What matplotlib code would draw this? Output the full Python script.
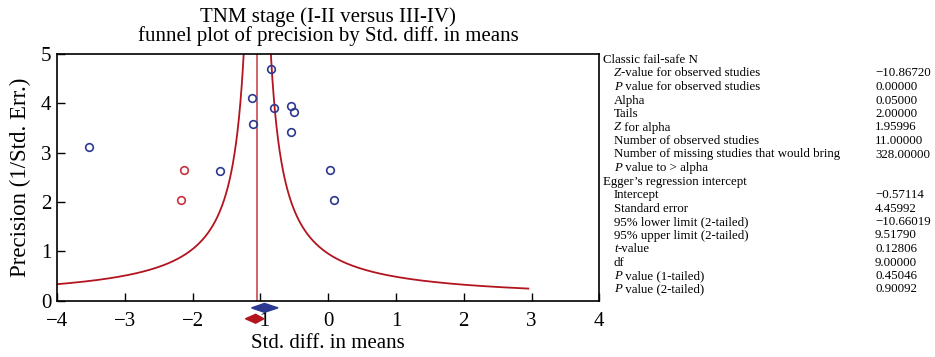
import numpy as np
import matplotlib.pyplot as plt
from matplotlib.patches import Polygon

plt.rcParams['font.family'] = ['Liberation Serif', 'DejaVu Serif']

# observed studies (std diff in means, precision)
obs_x = [-3.53, -1.60, -1.12, -1.115, -0.84, -0.80, -0.55, -0.51, -0.555, 0.025, 0.08]
obs_y = [3.11, 2.62, 4.11, 3.58, 4.68, 3.89, 3.95, 3.81, 3.41, 2.64, 2.05]

# imputed studies (trim and fill)
imp_x = [-2.12, -2.17]
imp_y = [2.64, 2.05]

center = -1.046
half_k = 1.0

# combined effects: (low, point, high)
obs_diamond = [-1.13, -0.94, -0.74]
imp_diamond = [-1.22, -1.07, -0.95]

# (italic prefix, rest of label, value, indent)
stat_labels = [
    ("", "Classic fail-safe N", "", 0),
    ("Z", "-value for observed studies", "\u221210.86720", 1),
    ("P", " value for observed studies", "0.00000", 1),
    ("", "Alpha", "0.05000", 1),
    ("", "Tails", "2.00000", 1),
    ("Z", " for alpha", "1.95996", 1),
    ("", "Number of observed studies", "11.00000", 1),
    ("", "Number of missing studies that would bring", "328.00000", 1),
    ("P", " value to > alpha", "", 1),
    ("", "Egger\u2019s regression intercept", "", 0),
    ("", "Intercept", "\u22120.57114", 1),
    ("", "Standard error", "4.45992", 1),
    ("", "95% lower limit (2-tailed)", "\u221210.66019", 1),
    ("", "95% upper limit (2-tailed)", "9.51790", 1),
    ("t", "-value", "0.12806", 1),
    ("", "df", "9.00000", 1),
    ("P", " value (1-tailed)", "0.45046", 1),
    ("P", " value (2-tailed)", "0.90092", 1),
]

fig = plt.figure(figsize=(9.35, 3.57), dpi=100)
ax = fig.add_axes([0.061, 0.157, 0.580, 0.693])

red_dark = '#b3141f'
red_light = '#d2636b'
blue = '#2b3990'
red_pt = '#c8323c'

# funnel
prec = np.linspace(0.2, 5.2, 600)
ax.plot(center - half_k / prec, prec, color=red_dark, lw=1.3)
ax.plot(center + half_k / prec[prec >= 0.25], prec[prec >= 0.25], color=red_dark, lw=1.3)
ax.axvline(center, color=red_light, lw=1.4)

ax.plot(obs_x, obs_y, 'o', mfc='none', mec=blue, ms=5.5, mew=1.2)
ax.plot(imp_x, imp_y, 'o', mfc='none', mec=red_pt, ms=5.5, mew=1.2)

def diamond(vals, y, color):
    lo, mid, hi = vals
    pts = [(lo, y), (mid, y + 0.09), (hi, y), (mid, y - 0.09)]
    ax.add_patch(Polygon(pts, closed=True, color=color, clip_on=False, zorder=5))

diamond(obs_diamond, -0.14, blue)
diamond(imp_diamond, -0.36, red_dark)

ax.set_xlim(-4, 4)
ax.set_ylim(0, 5)
ax.set_xticks(range(-4, 5))
ax.set_xticklabels([str(v).replace('-', '\u2212') for v in range(-4, 5)])
ax.set_yticks(range(0, 6))
ax.tick_params(direction='in', length=5.5, width=1, labelsize=15)
ax.tick_params(axis='x', pad=8)
ax.tick_params(axis='y', pad=4)
for s in ax.spines.values():
    s.set_linewidth(1.2)
ax.set_xlabel('Std. diff. in means', fontsize=15, labelpad=2)
ax.set_ylabel('Precision (1/Std. Err.)', fontsize=16.5, labelpad=7)
ax.set_title('TNM stage (I-II versus III-IV)\nfunnel plot of precision by Std. diff. in means',
             fontsize=15, linespacing=0.97, pad=9)

# statistics panel
renderer = fig.canvas.get_renderer()
y0 = 1 - 63 / 357
dy = 13.5 / 357
fs = 9.3
for i, (ital, lab, val, ind) in enumerate(stat_labels):
    y = y0 - i * dy
    x = 603 / 935 if ind == 0 else 614 / 935
    if ital:
        t = fig.text(x, y, ital, fontsize=fs, style='italic', va='baseline', ha='left')
        x += t.get_window_extent(renderer).width / fig.bbox.width
    fig.text(x, y, lab, fontsize=fs, va='baseline', ha='left')
    if val:
        fig.text(875 / 935, y, val, fontsize=fs, va='baseline', ha='left')

fig.savefig('out.png', dpi=100)
